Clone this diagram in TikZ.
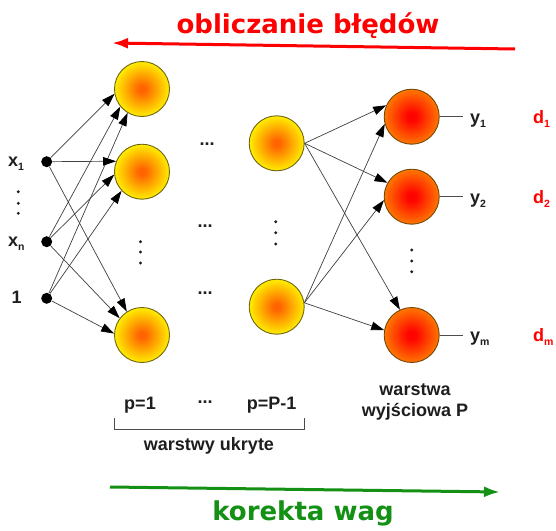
\documentclass[tikz,border=0pt]{standalone}
\usepackage{fontspec}
\usetikzlibrary{arrows.meta}
\newfontfamily\labfont{Liberation Sans}
\newfontfamily\headfont{DejaVu Sans}
\newcommand\lsub[1]{\raisebox{-0.45ex}{\fontsize{10.5}{10.5}\selectfont #1}}

\definecolor{hidin}{RGB}{255,100,0}
\definecolor{hidout}{RGB}{255,238,0}
\definecolor{hidline}{RGB}{110,100,20}
\definecolor{outin}{RGB}{255,5,0}
\definecolor{outout}{RGB}{255,135,0}
\definecolor{outline}{RGB}{115,70,10}
\definecolor{errred}{RGB}{255,0,0}
\definecolor{corgreen}{RGB}{20,145,20}
\definecolor{labcol}{RGB}{30,30,30}

\pgfdeclareradialshading{hidshade}{\pgfpoint{0bp}{0bp}}{color(0bp)=(hidin); color(3bp)=(hidin); color(25bp)=(hidout); color(50bp)=(hidout)}
\pgfdeclareradialshading{outshade}{\pgfpoint{0bp}{0bp}}{color(0bp)=(outin); color(4bp)=(outin); color(28bp)=(outout); color(50bp)=(outout)}

\tikzset{
  hidneuron/.style={circle, minimum size=55pt, inner sep=0pt, shading=hidshade, draw=hidline, line width=0.9pt},
  outneuron/.style={circle, minimum size=55pt, inner sep=0pt, shading=outshade, draw=outline, line width=0.9pt},
  inpoint/.style={circle, minimum size=11pt, inner sep=0pt, fill=black},
  lab/.style={font=\labfont\bfseries\fontsize{18}{20}\selectfont, text=labcol, inner sep=0pt},
  dlab/.style={lab, text=errred},
  synapse/.style={draw=black!75, line width=0.7pt, -{Triangle[length=13pt,width=8.5pt,black]}},
  outwire/.style={draw=black!70, line width=0.8pt},
  vdot/.style={fill=labcol},
  bigtitle/.style={font=\headfont\bfseries\fontsize{26}{28}\selectfont, inner sep=0pt}
}

\begin{document}
\begin{tikzpicture}[x=1pt,y=-1pt]
\useasboundingbox[fill=white] (0,0) rectangle (556,530);

% inputs
\node[inpoint] (i1) at (46.7,161.7) {};
\node[inpoint] (i2) at (46.7,241.7) {};
\node[inpoint] (i3) at (46.7,298.3) {};
\node[lab, anchor=base west] (lx1) at (8,166.7) {x\lsub{1}};
\node[lab, anchor=base west] (lxn) at (8,246.7) {x\lsub{n}};
\node[lab, anchor=base west] (lone) at (11.5,303.5) {1};

% first hidden layer
\node[hidneuron] (h1) at (142,89) {};
\node[hidneuron] (h2) at (142,171.7) {};
\node[hidneuron] (h3) at (142,335) {};

% last hidden layer
\node[hidneuron] (p1) at (276.7,143.3) {};
\node[hidneuron] (p2) at (276.7,306.7) {};

% output layer
\node[outneuron] (o1) at (411.7,116.7) {};
\node[outneuron] (o2) at (411.7,196.7) {};
\node[outneuron] (o3) at (411.7,335) {};

% input -> first hidden layer
\draw[synapse] (i1) -- (h1.190);
\draw[synapse] (i2) -- (h1.219);
\draw[synapse] (i3) -- (h1.239);
\draw[synapse] (i1) -- (h2.158);
\draw[synapse] (i2) -- (h2.186);
\draw[synapse] (i3) -- (h2.223);
\draw[synapse] (i1) -- (h3.123);
\draw[synapse] (i2) -- (h3.143);
\draw[synapse] (i3) -- (h3.177);

% last hidden -> output layer
\draw[synapse] (p1.east) -- (o1.156);
\draw[synapse] (p2.8) -- (o1.195);
\draw[synapse] (p1.east) -- (o2.150);
\draw[synapse] (p2.8) -- (o2.187);
\draw[synapse] (p1.east) -- (o3.115);
\draw[synapse] (p2.8) -- (o3.170);

% outputs
\coordinate (e1) at (463,116.7);
\coordinate (e2) at (463,196.7);
\coordinate (e3) at (463,335);
\draw[outwire] (o1.east) -- (e1);
\draw[outwire] (o2.east) -- (e2);
\draw[outwire] (o3.east) -- (e3);
\node[lab, anchor=base west] (y1) at (470,123) {y\lsub{1}};
\node[lab, anchor=base west] (y2) at (470,203) {y\lsub{2}};
\node[lab, anchor=base west] (ym) at (470,341.3) {y\lsub{m}};
\node[dlab, anchor=base west] (d1) at (533,123) {d\lsub{1}};
\node[dlab, anchor=base west] (d2) at (533,203) {d\lsub{2}};
\node[dlab, anchor=base west] (dm) at (533,341.3) {d\lsub{m}};

% horizontal ellipses between the hidden layers
\node[lab] (el1) at (207,144) {...};
\node[lab] (el2) at (205,226) {...};
\node[lab] (el3) at (205,293) {...};

% vertical ellipses
\foreach \x/\ya/\yb/\yc in {18.3/191.7/203.3/213.3, 140.5/241.7/252/263, 275.7/221.7/232.7/244, 411.7/250/261/271.7}{
  \fill[vdot] (\x,\ya) circle (1.6);
  \fill[vdot] (\x,\yb) circle (1.6);
  \fill[vdot] (\x,\yc) circle (1.6);
}

% layer captions
\node[lab, anchor=base] (cp1) at (140,409.3) {p=1};
\node[lab] (cdots) at (205,402) {...};
\node[lab, anchor=base] (cpP) at (271.7,409.3) {p=P-1};
\draw[black!70, line width=0.8pt] (114,418) -- (114,429) -- (304,429) -- (304,418);
\node[lab, anchor=base] (chid) at (209,450) {warstwy ukryte};
\node[lab, anchor=base] (cout1) at (415,395) {warstwa};
\node[lab, anchor=base] (cout2) at (415,416) {wyjściowa P};

% direction arrows
\coordinate (ra) at (515,49);
\coordinate (rb) at (112,43);
\draw[errred, line width=3pt, -{Latex[length=16pt,width=11pt]}] (ra) -- (rb);
\node[bigtitle, text=errred, anchor=base] (terr) at (308,33) {obliczanie błędów};

\coordinate (ga) at (110,487);
\coordinate (gb) at (500,492);
\draw[corgreen, line width=3pt, -{Latex[length=16pt,width=11pt]}] (ga) -- (gb);
\node[bigtitle, text=corgreen, anchor=base] (tcor) at (303,520) {korekta wag};
\end{tikzpicture}
\end{document}
